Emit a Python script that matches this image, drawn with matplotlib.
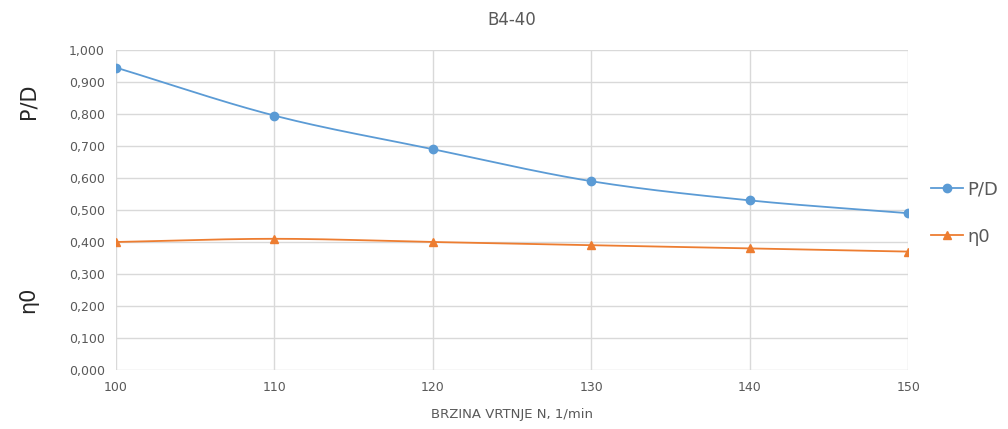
import numpy as np
import matplotlib
matplotlib.use('Agg')
import matplotlib.pyplot as plt
from matplotlib.ticker import FuncFormatter

# Podaci očitani s grafa
brzina = [100, 110, 120, 130, 140, 150]
pd_omjer = [0.945, 0.795, 0.69, 0.59, 0.53, 0.49]
eta0 = [0.40, 0.41, 0.40, 0.39, 0.38, 0.37]

plava = '#5b9bd5'
narancasta = '#ed7d31'
siva = '#595959'


def glatka_linija(x, y, n=30):
    # Catmull-Rom krivulja kroz točke (kao "smoothed line" u Excelu)
    x = np.asarray(x, float)
    y = np.asarray(y, float)
    px = np.concatenate([[2 * x[0] - x[1]], x, [2 * x[-1] - x[-2]]])
    py = np.concatenate([[2 * y[0] - y[1]], y, [2 * y[-1] - y[-2]]])
    xs, ys = [], []
    t = np.linspace(0, 1, n)
    for i in range(1, len(px) - 2):
        for p, out in ((px, xs), (py, ys)):
            p0, p1, p2, p3 = p[i - 1], p[i], p[i + 1], p[i + 2]
            out.extend(0.5 * (2 * p1 + (-p0 + p2) * t
                              + (2 * p0 - 5 * p1 + 4 * p2 - p3) * t ** 2
                              + (-p0 + 3 * p1 - 3 * p2 + p3) * t ** 3))
    return xs, ys


fig = plt.figure(figsize=(10.08, 4.29), dpi=100)
ax = fig.add_axes([0.115, 0.1375, 0.786, 0.746])

for y, boja, marker, ime in ((pd_omjer, plava, 'o', 'P/D'), (eta0, narancasta, '^', 'η0')):
    gx, gy = glatka_linija(brzina, y)
    ax.plot(gx, gy, color=boja, lw=1.3, zorder=3)
    ax.plot(brzina, y, linestyle='none', marker=marker, color=boja, ms=6, zorder=4)
    ax.plot([], [], color=boja, lw=1.3, marker=marker, ms=6, label=ime)

ax.set_xlim(100, 150)
ax.set_ylim(0, 1.0)
ax.set_xticks(brzina)
ax.set_yticks(np.arange(0, 1.01, 0.1))
ax.yaxis.set_major_formatter(FuncFormatter(lambda v, p: f'{v:.3f}'.replace('.', ',')))
ax.grid(True, color='#d9d9d9', lw=1)
ax.set_axisbelow(True)
for s in ax.spines.values():
    s.set_visible(False)
ax.tick_params(length=0, labelsize=9, colors=siva, pad=8)

ax.set_title('B4-40', fontsize=12, color=siva, pad=18)
ax.set_xlabel('BRZINA VRTNJE N, 1/min', fontsize=9.5, color=siva, labelpad=10)
fig.text(0.028, 0.765, 'P/D', rotation=90, fontsize=15, color='#262626', ha='center', va='center')
fig.text(0.028, 0.30, 'η0', rotation=90, fontsize=15, color='#262626', ha='center', va='center')

ax.legend(loc='center left', bbox_to_anchor=(1.008, 0.49), frameon=False,
          fontsize=13, labelcolor=siva, handlelength=1.8, handletextpad=0.2,
          labelspacing=1.6)

fig.savefig('out.png', dpi=100)
